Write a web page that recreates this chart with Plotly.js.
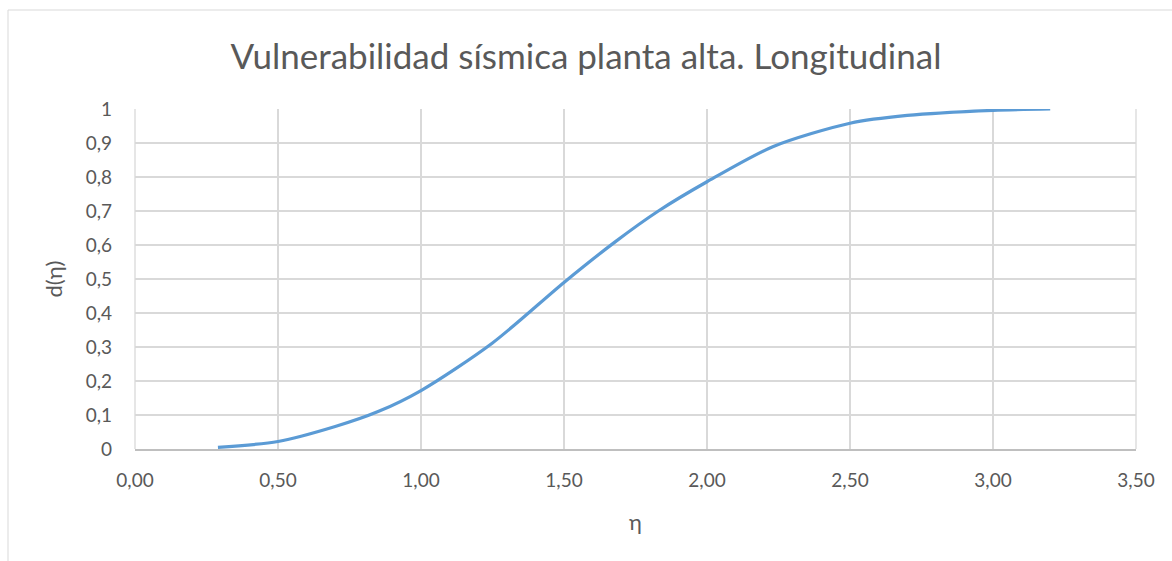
<!DOCTYPE html>
<html>
<head>
<meta charset="utf-8">
<script src="https://cdn.plot.ly/plotly-3.0.1.min.js"></script>
<style>html,body{margin:0;padding:0;background:#fff;}#chart{width:1172px;height:561px;}</style>
</head>
<body>
<div id="chart"></div>
<script>
const eta = [0.29, 0.50, 0.70, 0.85, 1.00, 1.25, 1.50, 1.68, 1.83, 2.00, 2.23, 2.50, 2.70, 3.00, 3.20];
const dEta = [0.005, 0.022, 0.066, 0.110, 0.172, 0.312, 0.490, 0.610, 0.700, 0.786, 0.889, 0.958, 0.981, 0.996, 1.000];
const xTickVals = [0, 0.5, 1, 1.5, 2, 2.5, 3, 3.5];
const xTickText = ["0,00", "0,50", "1,00", "1,50", "2,00", "2,50", "3,00", "3,50"];
const yTickVals = [0, 0.1, 0.2, 0.3, 0.4, 0.5, 0.6, 0.7, 0.8, 0.9, 1];
const yTickText = ["0", "0,1", "0,2", "0,3", "0,4", "0,5", "0,6", "0,7", "0,8", "0,9", "1"];

const font = "Lato, 'Open Sans', sans-serif";
const grey = "#595959";

const trace = {
  x: eta, y: dEta, type: "scatter", mode: "lines",
  line: {color: "#5b9bd5", width: 3.2, shape: "spline", smoothing: 0.8},
  hoverinfo: "skip"
};

const layout = {
  width: 1172, height: 561,
  margin: {l: 135, r: 36, t: 109, b: 112},
  paper_bgcolor: "#ffffff", plot_bgcolor: "#ffffff",
  showlegend: false,
  font: {family: font, color: grey},
  title: {text: "Vulnerabilidad sísmica planta alta. Longitudinal", font: {family: font, size: 35, color: grey}, x: 0.5, xanchor: "center", y: 1 - 57 / 561, yanchor: "middle", yref: "container"},
  xaxis: {
    range: [0, 3.5], tickvals: xTickVals, ticktext: xTickText,
    showgrid: true, gridcolor: "#d9d9d9", gridwidth: 1.3,
    showline: true, linecolor: "#bfbfbf", linewidth: 1.5, mirror: false,
    zeroline: false, ticks: "", ticklabelstandoff: 14,
    tickfont: {family: font, size: 19, color: grey},
    title: {text: "η", font: {family: font, size: 22, color: grey}, standoff: 24}
  },
  yaxis: {
    range: [0, 1], tickvals: yTickVals, ticktext: yTickText,
    showgrid: true, gridcolor: "#d9d9d9", gridwidth: 1.3,
    showline: false, zeroline: false, ticks: "", ticklabelstandoff: 22,
    tickfont: {family: font, size: 19, color: grey},
    title: {text: "d(η)", font: {family: font, size: 22, color: grey}, standoff: 16}
  },
  shapes: [
    {type: "line", xref: "paper", yref: "paper", x0: 1, x1: 1, y0: 0, y1: 1, line: {color: "#d9d9d9", width: 1.3}},
    {type: "line", xref: "paper", yref: "paper", x0: 0, x1: 0, y0: 0, y1: 1, line: {color: "#d9d9d9", width: 1.3}},
    {type: "rect", xref: "paper", yref: "paper",
     x0: (8 - 135) / 1001, x1: (1180 - 135) / 1001,
     y0: (449 - 570) / 340, y1: (449 - 10) / 340,
     line: {color: "#d9d9d9", width: 1}, layer: "below"}
  ]
};

Plotly.newPlot("chart", [trace], layout, {displayModeBar: false, staticPlot: true});
</script>
</body>
</html>
